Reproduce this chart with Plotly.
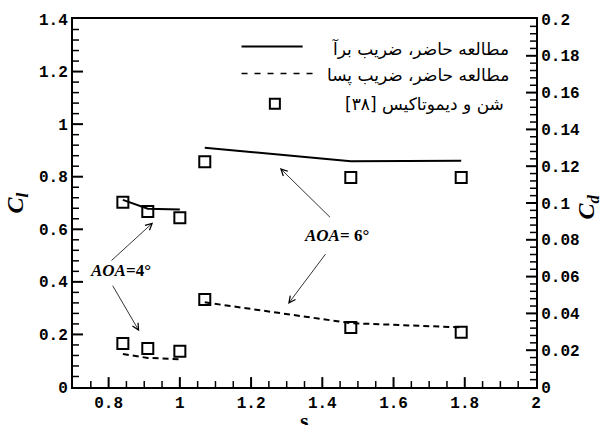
import plotly.graph_objects as go

# Gap ratio s
s_aoa4 = [0.84, 0.91, 1.0]
s_aoa6 = [1.07, 1.48, 1.79]

# Present study, lift and drag coefficients
cl_aoa4 = [0.712, 0.678, 0.675]
cd_aoa4 = [0.0179, 0.0158, 0.0151]
cl_aoa6 = [0.910, 0.859, 0.861]
cd_aoa6 = [0.0460, 0.0347, 0.0324]

# Reference data [38]
exp_cl_aoa4 = [0.703, 0.668, 0.644]
exp_cd_aoa4 = [0.0237, 0.0209, 0.0194]
exp_cl_aoa6 = [0.857, 0.797, 0.797]
exp_cd_aoa6 = [0.0475, 0.0324, 0.0297]

legend_labels = [
    "مطالعه حاضر، ضریب برآ",
    "مطالعه حاضر، ضریب پسا",
    "شن و دیموتاکیس [۳۸]",
]

# Axis ranges and tick positions (major and minor)
S_RANGE = [0.7, 2.0]
CL_RANGE = [0.0, 1.4]
CD_RANGE = [0.0, 0.2]
x_major = [0.8, 1.0, 1.2, 1.4, 1.6, 1.8]
x_minor = [k * 0.05 for k in range(15, 40) if k % 4 != 0]
cl_major = [0.2, 0.4, 0.6, 0.8, 1.0, 1.2]
cl_minor = [k * 0.04 for k in range(1, 35) if k % 5 != 0]
cd_major = [0.02, 0.04, 0.06, 0.08, 0.10, 0.12, 0.14, 0.16, 0.18]
cd_minor = [k * 0.004 for k in range(1, 50) if k % 5 != 0]

RLM = "\u200f"
BLACK = "black"
TICK_FONT = dict(family="Liberation Mono", size=16, color=BLACK, weight="bold")
SERIF = "Liberation Serif"

WIDTH, HEIGHT = 603, 425
MARGIN = dict(l=73, r=67, t=17, b=36)
PLOT_W = WIDTH - MARGIN["l"] - MARGIN["r"]
PLOT_H = HEIGHT - MARGIN["t"] - MARGIN["b"]

fig = go.Figure()

line_solid = dict(color=BLACK, width=2)
line_dash = dict(color=BLACK, width=2, dash="6px,4px")
square = dict(symbol="square-open", size=11, color=BLACK, line=dict(width=2, color=BLACK))

for s, cl in ((s_aoa4, cl_aoa4), (s_aoa6, cl_aoa6)):
    fig.add_trace(go.Scatter(x=s, y=cl, mode="lines", line=line_solid,
                             showlegend=False, yaxis="y"))
for s, cd in ((s_aoa4, cd_aoa4), (s_aoa6, cd_aoa6)):
    fig.add_trace(go.Scatter(x=s, y=cd, mode="lines", line=line_dash,
                             showlegend=False, yaxis="y2"))
for s, cl in ((s_aoa4, exp_cl_aoa4), (s_aoa6, exp_cl_aoa6)):
    fig.add_trace(go.Scatter(x=s, y=cl, mode="markers", marker=square,
                             showlegend=False, yaxis="y"))
for s, cd in ((s_aoa4, exp_cd_aoa4), (s_aoa6, exp_cd_aoa6)):
    fig.add_trace(go.Scatter(x=s, y=cd, mode="markers", marker=square,
                             showlegend=False, yaxis="y2"))


# Inward tick marks along the frame, laid out on each axis scale
def px_to_span(px, rng, size):
    return px * (rng[1] - rng[0]) / size


def add_ticks(values, side, length_px, width):
    xs, ys = [], []
    if side == "bottom":
        dy = px_to_span(length_px, CL_RANGE, PLOT_H)
        for v in values:
            xs += [v, v, None]
            ys += [CL_RANGE[0], CL_RANGE[0] + dy, None]
        yaxis = "y"
    elif side == "left":
        dx = px_to_span(length_px, S_RANGE, PLOT_W)
        for v in values:
            xs += [S_RANGE[0], S_RANGE[0] + dx, None]
            ys += [v, v, None]
        yaxis = "y"
    else:
        dx = px_to_span(length_px, S_RANGE, PLOT_W)
        for v in values:
            xs += [S_RANGE[1] - dx, S_RANGE[1], None]
            ys += [v, v, None]
        yaxis = "y2"
    fig.add_trace(go.Scatter(x=xs, y=ys, mode="lines", yaxis=yaxis,
                             line=dict(color=BLACK, width=width),
                             hoverinfo="skip", showlegend=False))


add_ticks(x_major, "bottom", 10, 2)
add_ticks(x_minor, "bottom", 6, 1.5)
add_ticks(cl_major, "left", 10, 2)
add_ticks(cl_minor, "left", 6, 1.5)
add_ticks(cd_major, "right", 10, 2)
add_ticks(cd_minor, "right", 6, 1.5)

annotations = []
shapes = []

# Hand-built legend with right-aligned Persian labels
legend_rows_y = [0.919, 0.846, 0.769]
legend_right = [0.947, 0.947, 0.936]
for lab, yy, xr in zip(legend_labels, legend_rows_y, legend_right):
    annotations.append(dict(
        text=RLM + lab + RLM, x=xr, y=yy, xref="paper", yref="paper",
        xanchor="right", yanchor="middle", showarrow=False,
        font=dict(family="DejaVu Sans", size=17, color=BLACK)))
shapes.append(dict(type="line", xref="paper", yref="paper",
                   x0=0.364, x1=0.496, y0=0.925, y1=0.925,
                   line=dict(color=BLACK, width=2)))
shapes.append(dict(type="line", xref="paper", yref="paper",
                   x0=0.364, x1=0.531, y0=0.852, y1=0.852,
                   line=dict(color=BLACK, width=1.5, dash="6px,7px")))
shapes.append(dict(type="rect", xref="paper", yref="paper",
                   xsizemode="pixel", ysizemode="pixel",
                   xanchor=0.436, yanchor=0.770,
                   x0=-5, x1=5, y0=-5, y1=5,
                   line=dict(color=BLACK, width=2)))

# Angle-of-attack callouts
aoa_font = dict(family=SERIF, size=17, color=BLACK)
annotations.append(dict(text="<b><i>AOA</i>=4°</b>", x=0.834, y=0.442,
                        xref="x", yref="y", showarrow=False, font=aoa_font))
annotations.append(dict(text="<b><i>AOA</i>= 6°</b>", x=1.440, y=0.577,
                        xref="x", yref="y", showarrow=False, font=aoa_font))

arrows = [
    # (tail x, tail y, head x, head y) on the lift axis
    (0.804, 0.476, 0.925, 0.626),
    (0.809, 0.391, 0.886, 0.212),
    (1.426, 0.640, 1.281, 0.833),
    (1.412, 0.511, 1.304, 0.316),
]
for tx, ty, hx, hy in arrows:
    annotations.append(dict(text="", x=hx, y=hy, ax=tx, ay=ty,
                            xref="x", yref="y", axref="x", ayref="y",
                            showarrow=True, arrowhead=5, arrowsize=1.6,
                            arrowwidth=0.8, arrowcolor=BLACK,
                            standoff=0, startstandoff=0))

# Axis titles
annotations.append(dict(text="<b><i>C</i></b><sub><b><i>l</i></b></sub>",
                        x=-0.122, y=0.5, xref="paper", yref="paper",
                        xanchor="center", yanchor="middle",
                        textangle=-90, showarrow=False,
                        font=dict(family=SERIF, size=24, color=BLACK)))
annotations.append(dict(text="<b><i>C</i></b><sub><b><i>d</i></b></sub>",
                        x=1.112, y=0.49, xref="paper", yref="paper",
                        xanchor="center", yanchor="middle",
                        textangle=-90, showarrow=False,
                        font=dict(family=SERIF, size=24, color=BLACK)))
annotations.append(dict(text="<b>s</b>", x=0.5, y=-0.09, xref="paper",
                        yref="paper", showarrow=False, xanchor="center",
                        yanchor="middle",
                        font=dict(family=SERIF, size=22, color=BLACK)))

axis_common = dict(
    ticks="", showline=True, linewidth=2, linecolor=BLACK,
    showgrid=False, zeroline=False, tickfont=TICK_FONT,
)

fig.update_layout(
    width=WIDTH, height=HEIGHT,
    margin=MARGIN,
    paper_bgcolor="white", plot_bgcolor="white",
    showlegend=False,
    xaxis=dict(range=S_RANGE, tickmode="linear", tick0=0, dtick=0.2,
               mirror=True, **axis_common),
    yaxis=dict(range=CL_RANGE, tickmode="linear", tick0=0, dtick=0.2,
               **axis_common),
    yaxis2=dict(range=CD_RANGE, tickmode="linear", tick0=0, dtick=0.02,
                overlaying="y", side="right", **axis_common),
    annotations=annotations,
    shapes=shapes,
)

fig.write_html("out.html")
